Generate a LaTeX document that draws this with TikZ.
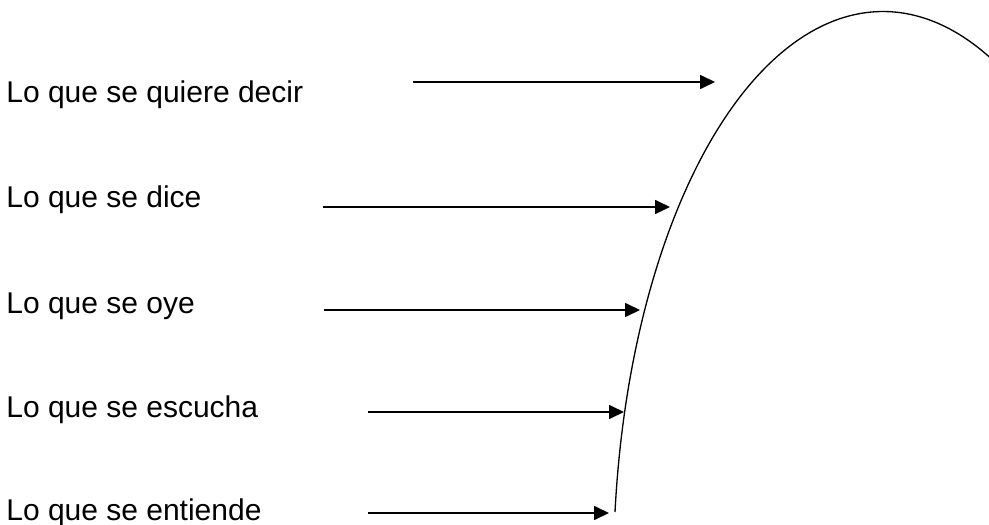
\documentclass[tikz,border=0pt]{standalone}
\usepackage{fontspec}
\setmainfont{Liberation Sans}
\usetikzlibrary{arrows.meta,positioning}
\tikzset{
  leveltext/.style={anchor=base west, inner sep=0pt, font=\fontsize{17.07}{20}\selectfont},
  arrow/.style={-{Triangle[length=3mm, width=2.8mm]}, line width=0.95pt, draw=black},
  hump/.style={line width=0.75pt, draw=black}
}
\begin{document}
\begin{tikzpicture}[x=0.02cm, y=0.02cm]
    \useasboundingbox (0,0) rectangle (989,524);
    \node[leveltext] (quiere) at (6,421) {Lo que se quiere decir};
    \node[leveltext] (dice) at (6,316) {Lo que se dice};
    \node[leveltext] (oye) at (6,211) {Lo que se oye};
    \node[leveltext] (escucha) at (6,107) {Lo que se escucha};
    \node[leveltext] (entiende) at (6,4) {Lo que se entiende};

    % arrow ends
    \coordinate (quiere-a) at (413,442);
    \coordinate (quiere-b) at (715,442);
    \coordinate (dice-a) at (323,317);
    \coordinate (dice-b) at (670,317);
    \coordinate (oye-a) at (324,214);
    \coordinate (oye-b) at (640,214);
    \coordinate (escucha-a) at (368,112);
    \coordinate (escucha-b) at (624,112);
    \coordinate (entiende-a) at (368,11);
    \coordinate (entiende-b) at (609,11);

    \draw[arrow] (quiere-a) -- (quiere-b);
    \draw[arrow] (dice-a) -- (dice-b);
    \draw[arrow] (oye-a) -- (oye-b);
    \draw[arrow] (escucha-a) -- (escucha-b);
    \draw[arrow] (entiende-a) -- (entiende-b);

    % the curve
    \coordinate (foot) at (615,12);
    \draw[hump] (foot) arc[start angle=173.9, end angle=66.8, x radius=269.5, y radius=560];
  \end{tikzpicture}
\end{document}
